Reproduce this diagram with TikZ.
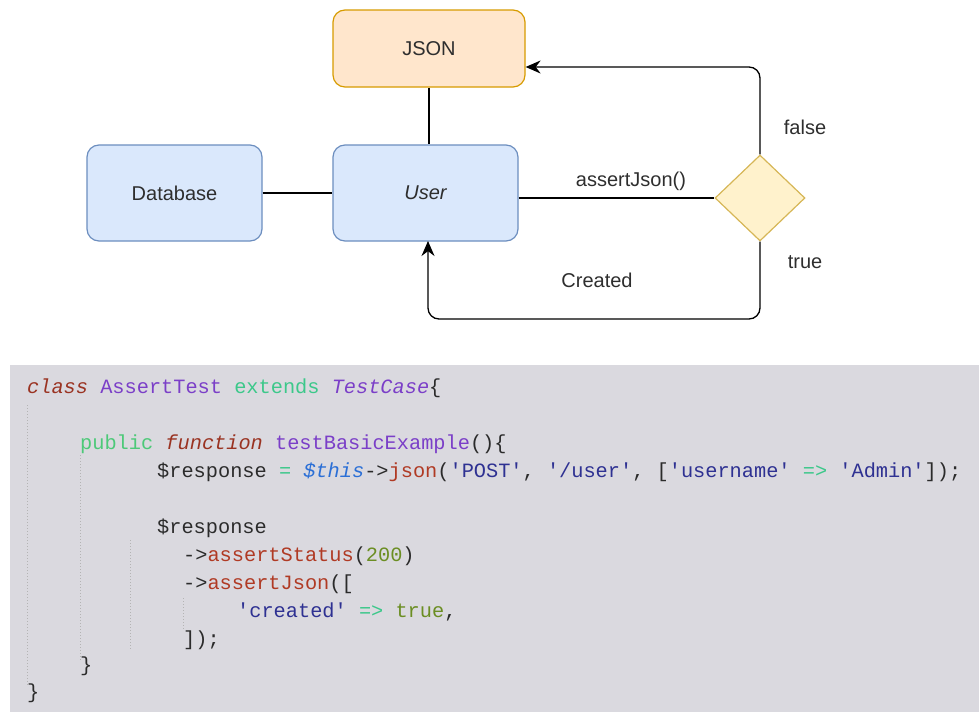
\documentclass[tikz,border=0pt]{standalone}
\usepackage{fontspec}
\setmainfont{Liberation Sans}
\newfontfamily\codefont{Liberation Mono}
\usetikzlibrary{arrows.meta,shapes.geometric}

\definecolor{jsonfill}{HTML}{FFE6CC}
\definecolor{jsonline}{HTML}{D79B00}
\definecolor{bluefill}{HTML}{DAE8FC}
\definecolor{blueline}{HTML}{6C8EBF}
\definecolor{decfill}{HTML}{FFF2CC}
\definecolor{decline}{HTML}{D6B656}
\definecolor{labeltext}{HTML}{2E2E2E}
\definecolor{codebg}{HTML}{DAD9DF}
\definecolor{cKey}{HTML}{9A3322}
\definecolor{cName}{HTML}{7B3FC8}
\definecolor{cOp}{HTML}{3CC88A}
\definecolor{cPub}{HTML}{4CC978}
\definecolor{cCall}{HTML}{B03A24}
\definecolor{cStr}{HTML}{2E3192}
\definecolor{cNum}{HTML}{6B8E23}
\definecolor{cThis}{HTML}{2B6FD6}
\definecolor{cTxt}{HTML}{2B2B2B}
\definecolor{guide}{HTML}{B4B4B4}

\newcommand\q{\char"27\relax}
\newcommand\kw[1]{\textcolor{cKey}{\itshape #1}}
\newcommand\nm[1]{\textcolor{cName}{#1}}
\newcommand\op[1]{\textcolor{cOp}{#1}}
\newcommand\cl[1]{\textcolor{cCall}{#1}}
\newcommand\st[1]{\textcolor{cStr}{#1}}
\newcommand\nb[1]{\textcolor{cNum}{#1}}

\begin{document}
\begin{tikzpicture}[x=1pt,y=-1pt]
	\tikzset{box/.style={draw, rounded corners=12pt, line width=1.2pt, minimum width=185pt, minimum height=96pt, font=\fontsize{20}{22}\selectfont, text=labeltext},
		lbl/.style={font=\fontsize{20}{22}\selectfont, text=labeltext},
		flow/.style={line width=1.3pt, rounded corners=11pt, -{Stealth[length=15pt,width=13pt]}},
		code/.style={anchor=base west, inner sep=0pt, font=\codefont\fontsize{20.3}{24}\selectfont, text=cTxt},
		dots/.style={guide, line width=1pt, dotted}}
	\useasboundingbox (0,0) rectangle (979,712);
	% diagram
	\node [box, fill=jsonfill, draw=jsonline, minimum width=192pt, minimum height=77pt] (json) at (429,48.5) {JSON};
	\node [box, fill=bluefill, draw=blueline, minimum width=175pt] (db) at (174.5,193) {Database};
	\node [box, fill=bluefill, draw=blueline] (user) at (425.5,193) {\itshape User};
	\node [diamond, draw=decline, fill=decfill, line width=1.2pt, minimum width=90pt, minimum height=86pt, inner sep=0pt] (check) at (760,198) {};
	\draw [line width=1.3pt] (db.east) -- (db.east -| user.west);
	\draw [line width=1.3pt] (json.south) -- (json.south |- user.north);
	\draw [line width=1.3pt] (user.east |- check.west) -- (check.west);
	\node [lbl] (call) at (631,181) {assertJson()};
	\draw [flow] (check.north) -- (760,67) -- (json.east |- 0,67);
	\node [lbl] (no) at (805,127) {false};
	\draw [flow] (check.south) -- (760,319) -- (428,319) -- (428,241);
	\node [lbl] (yes) at (805,262) {true};
	\node [lbl] (made) at (597,280) {Created};
	% code
	\fill [codebg] (10,365) rectangle (979,712);
	\draw [dots] (27,405) -- (27,686);
	\draw [dots] (80,455) -- (80,660);
	\draw [dots] (130,540) -- (130,650);
	\draw [dots] (183,598) -- (183,630);
	\node [code] (l1) at (27,393) {\kw{class} \nm{AssertTest} \op{extends} \textcolor{cName}{\itshape TestCase}\{};
	\node [code] (l2) at (80,449) {\textcolor{cPub}{public} \kw{function} \nm{testBasicExample}()\{};
	\node [code] (l3) at (157,477) {\$response \op{=} \textcolor{cThis}{\itshape\$this}->\cl{json}(\st{\q POST\q}, \st{\q/user\q}, [\st{\q username\q} \op{=>} \st{\q Admin\q}]);};
	\node [code] (l4) at (157,533) {\$response};
	\node [code] (l5) at (183,561) {->\cl{assertStatus}(\nb{200})};
	\node [code] (l6) at (183,589) {->\cl{assertJson}([};
	\node [code] (l7) at (237,617) {\st{\q created\q} \op{=>} \nb{true},};
	\node [code] (l8) at (183,645) {]);};
	\node [code] (l9) at (80,671) {\}};
	\node [code] (l10) at (27,698) {\}};
\end{tikzpicture}
\end{document}
